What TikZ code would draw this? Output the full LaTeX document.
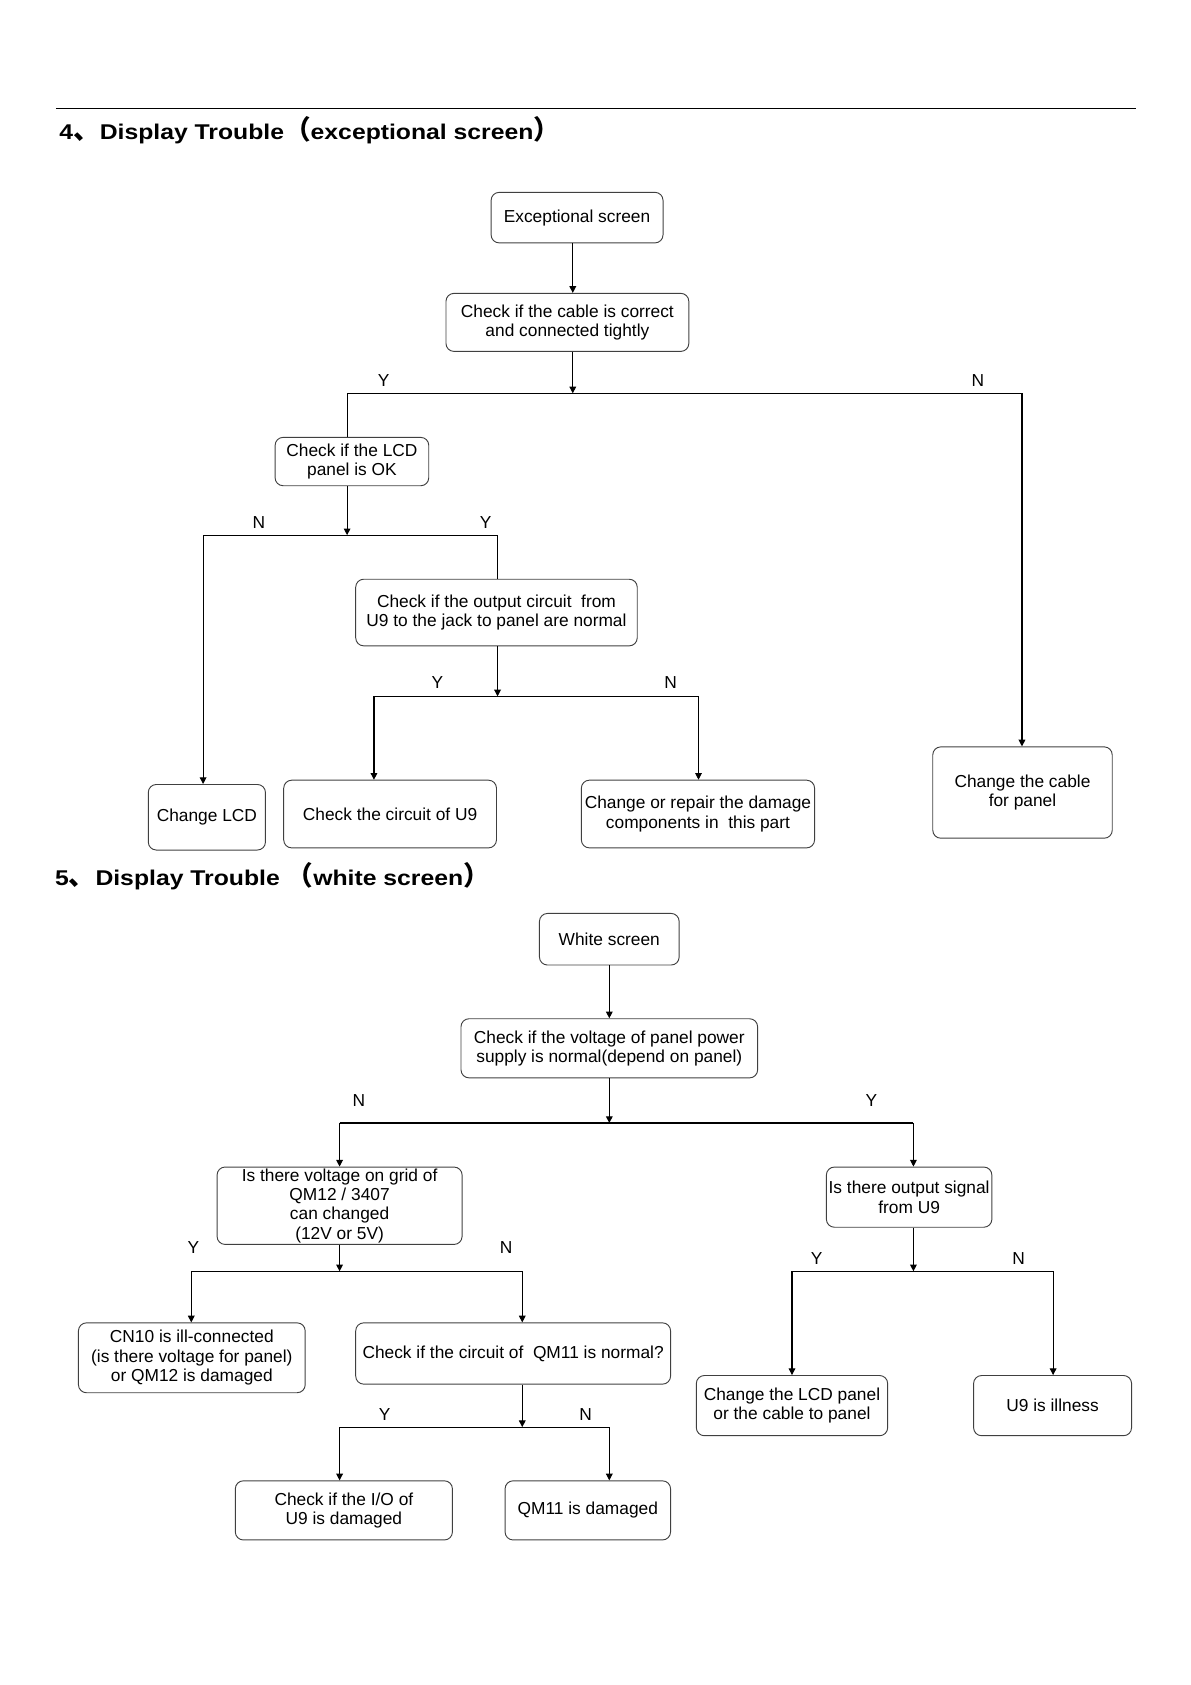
\documentclass[tikz,border=0pt]{standalone}
\usepackage{fontspec}
\setmainfont{Liberation Sans}
\newfontfamily\cjk{Noto Sans CJK SC}
\newfontfamily\headfont[FakeStretch=1.16]{Liberation Sans}
\usetikzlibrary{arrows.meta}

\newcommand{\boxfont}{\fontsize{13}{14.5}\selectfont}
\newcommand{\cj}[1]{{\cjk\fontsize{20}{20}\selectfont #1}}

\begin{document}
\begin{tikzpicture}[
  x=0.806pt, y=-0.806pt,
  every node/.style={font=\boxfont},
  box/.style={draw=black!75, line width=0.7pt, rounded corners=6pt, align=center, inner sep=1pt},
  sz/.style 2 args={minimum width=#1*0.806pt, minimum height=#2*0.806pt},
  lab/.style={inner sep=0pt},
  head/.style={font=\headfont\bfseries\fontsize{16}{18}\selectfont, inner sep=0pt, anchor=west},
  link/.style={line width=0.8pt},
  arr/.style={link, -{Triangle[length=5pt,width=5pt]}}
]
\useasboundingbox (0,0) rectangle (1108,1568);

% ---- 4. exceptional screen ----
\draw[link] (52,101) -- (1057,101);
\node[head] (title1) at (55,121) {4\cj{、}Display Trouble\cj{（}exceptional screen\cj{）}};

\node[box, sz={160}{47}] (exc) at (537,202.5) {Exceptional screen};
\node[box, sz={226}{54}] (cable) at (528,300) {Check if the cable is correct\\ and connected tightly};
\node[box, sz={143}{45}] (lcdok) at (327.5,429.5) {Check if the LCD\\ panel is OK};
\node[box, sz={262}{62}] (outck) at (462,570) {Check if the output circuit~ from\\ U9 to the jack to panel are normal};
\node[box, sz={109}{61}] (chlcd) at (192.5,760.5) {Change LCD};
\node[box, sz={198}{63}] (u9ck) at (363,757.5) {Check the circuit of U9};
\node[box, sz={217}{63}] (repair) at (649.5,757.5) {Change or repair the damage\\ components in~ this part};
\node[box, sz={167}{85}] (chcab) at (951.5,737.5) {Change the cable\\ for panel};

\coordinate (j1) at (533,366);  \coordinate (j1l) at (323,366); \coordinate (j1r) at (951,366);
\coordinate (j2) at (323,498);  \coordinate (j2l) at (189,498); \coordinate (j2r) at (463,498);
\coordinate (j3) at (463,648);  \coordinate (j3l) at (348,648); \coordinate (j3r) at (650,648);

\node[lab] (y1) at (357,354) {Y};
\node[lab] (n1) at (910,354) {N};
\node[lab] (n2) at (241,486) {N};
\node[lab] (y2) at (452,486) {Y};
\node[lab] (y3) at (407,635) {Y};
\node[lab] (n3) at (624,635) {N};

\draw[arr] (exc.south -| j1) -- (cable.north -| j1);
\draw[arr] (cable.south -| j1) -- (j1);
\draw[link] (lcdok.north -| j1l) -- (j1l) -- (j1r);
\draw[arr] (j1r) -- (chcab.north -| j1r);
\draw[arr] (lcdok.south -| j2) -- (j2);
\draw[link] (outck.north -| j2r) -- (j2r) -- (j2l);
\draw[arr] (j2l) -- (chlcd.north -| j2l);
\draw[arr] (outck.south -| j3) -- (j3);
\draw[link] (j3l) -- (j3r);
\draw[arr] (j3l) -- (u9ck.north -| j3l);
\draw[arr] (j3r) -- (repair.north -| j3r);

% ---- 5. white screen ----
\node[head] (title2) at (51,815) {5\cj{、}Display Trouble \cj{（}white screen\cj{）}};

\node[box, sz={130}{48}] (white) at (567,874) {White screen};
\node[box, sz={276}{55}] (volt) at (567,975.5) {Check if the voltage of panel power\\ supply is normal(depend on panel)};
\node[box, sz={228}{72}] (grid) at (316,1122) {Is there voltage on grid of\\ QM12 / 3407\\ can changed\\ (12V or 5V)};
\node[box, sz={154}{56}] (signal) at (846,1114) {Is there output signal\\ from U9};
\node[box, sz={211}{65}] (cn10) at (178.5,1263.5) {CN10 is ill-connected\\ (is there voltage for panel)\\ or QM12 is damaged};
\node[box, sz={293}{57}] (qmck) at (477.5,1259.5) {Check if the circuit of~ QM11 is normal?};
\node[box, sz={202}{55}] (iock) at (320,1405.5) {Check if the I/O of\\ U9 is damaged};
\node[box, sz={154}{55}] (qmdam) at (547,1405.5) {QM11 is damaged};
\node[box, sz={178}{56}] (chpan) at (737,1308) {Change the LCD panel\\ or the cable to panel};
\node[box, sz={147}{56}] (ill) at (979.5,1308) {U9 is illness};

\coordinate (j4) at (567,1045);  \coordinate (j4l) at (316,1045); \coordinate (j4r) at (850,1045);
\coordinate (j5) at (316,1183);  \coordinate (j5l) at (178,1183); \coordinate (j5r) at (486,1183);
\coordinate (j6) at (486,1328);  \coordinate (j6l) at (316,1328); \coordinate (j6r) at (567,1328);
\coordinate (j7) at (850,1183);  \coordinate (j7l) at (737,1183); \coordinate (j7r) at (980,1183);

\node[lab] (n4) at (334,1024) {N};
\node[lab] (y4) at (811,1024) {Y};
\node[lab] (y5) at (180,1161) {Y};
\node[lab] (n5) at (471,1161) {N};
\node[lab] (y6) at (358,1316) {Y};
\node[lab] (n6) at (545,1316) {N};
\node[lab] (y7) at (760,1171) {Y};
\node[lab] (n7) at (948,1171) {N};

\draw[arr] (white) -- (volt);
\draw[arr] (volt.south -| j4) -- (j4);
\draw[link] (j4l) -- (j4r);
\draw[arr] (j4l) -- (grid.north -| j4l);
\draw[arr] (j4r) -- (signal.north -| j4r);
\draw[arr] (grid.south -| j5) -- (j5);
\draw[link] (j5l) -- (j5r);
\draw[arr] (j5l) -- (cn10.north -| j5l);
\draw[arr] (j5r) -- (qmck.north -| j5r);
\draw[arr] (qmck.south -| j6) -- (j6);
\draw[link] (j6l) -- (j6r);
\draw[arr] (j6l) -- (iock.north -| j6l);
\draw[arr] (j6r) -- (qmdam.north -| j6r);
\draw[arr] (signal.south -| j7) -- (j7);
\draw[link] (j7l) -- (j7r);
\draw[arr] (j7l) -- (chpan.north -| j7l);
\draw[arr] (j7r) -- (ill.north -| j7r);
\end{tikzpicture}
\end{document}
